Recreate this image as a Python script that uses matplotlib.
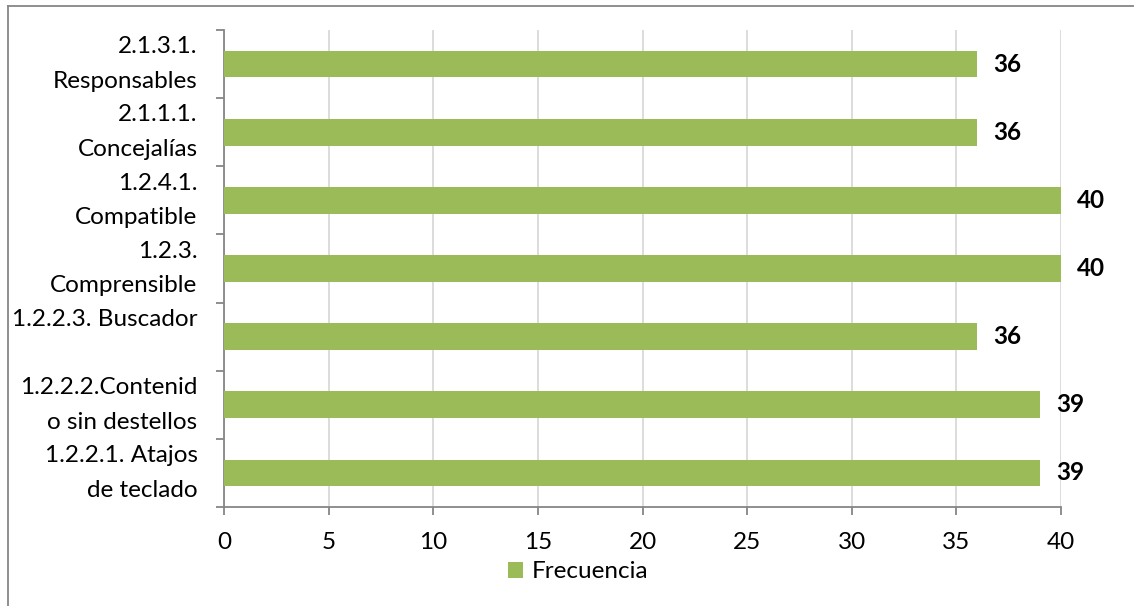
import matplotlib
matplotlib.use("Agg")
import matplotlib.pyplot as plt
from matplotlib.lines import Line2D
from matplotlib.patches import Patch

categories = [
    "1.2.2.1. Atajos\nde teclado",
    "1.2.2.2.Contenid\no sin destellos",
    "1.2.2.3. Buscador\n ",
    "1.2.3.\nComprensible",
    "1.2.4.1.\nCompatible",
    "2.1.1.1.\nConcejalías",
    "2.1.3.1.\nResponsables",
]
frecuencia = [39, 39, 36, 40, 40, 36, 36]
x_ticks = [0, 5, 10, 15, 20, 25, 30, 35, 40]
series_name = "Frecuencia"

GREEN = "#9BBB59"
AXIS = "#868686"
GRID = "#D9D9D9"
FS = 17.5

plt.rcParams["font.family"] = ["Lato", "DejaVu Sans"]

fig = plt.figure(figsize=(11.34, 6.06), dpi=100)
ax = fig.add_axes([224 / 1134, 1 - 507 / 606, (1061 - 224) / 1134, (507 - 30) / 606])

pos = list(range(len(categories)))
ax.barh(pos, frecuencia, height=0.39, color=GREEN, zorder=3)

for y, v in zip(pos, frecuencia):
    ax.annotate(str(v), (v, y), xytext=(11.5, 0), textcoords="offset points",
                ha="left", va="center", fontsize=FS, fontweight="bold",
                color="black")

ax.set_xlim(0, 40)
ax.set_ylim(-0.5, len(categories) - 0.5)
ax.set_xticks(x_ticks)
ax.set_xticklabels([str(t) for t in x_ticks], fontsize=FS)
ax.set_yticks(pos)
ax.set_yticklabels(categories, fontsize=FS, linespacing=1.8, va="center")
ax.set_yticks([p - 0.5 for p in pos] + [len(categories) - 0.5], minor=True)

ax.tick_params(axis="y", which="major", length=0, pad=19)
ax.tick_params(axis="y", which="minor", length=6, width=1.3, color=AXIS, direction="out")
ax.tick_params(axis="x", length=6, width=1.3, color=AXIS, direction="out", pad=12)

ax.grid(axis="x", color=GRID, linewidth=1.3, zorder=0)
ax.set_axisbelow(True)
for side in ("top", "right"):
    ax.spines[side].set_visible(False)
for side in ("left", "bottom"):
    ax.spines[side].set_color(AXIS)
    ax.spines[side].set_linewidth(1.3)

handle = Patch(facecolor=GREEN, edgecolor="none")
fig.legend([handle], [series_name], loc="center", bbox_to_anchor=(578 / 1134, 1 - 572 / 606),
           frameon=False, fontsize=FS, handlelength=0.65, handleheight=0.65,
           handletextpad=0.35, borderpad=0)

# chart frame
fig.add_artist(Line2D([8 / 1134, 8 / 1134], [0, 1 - 6 / 606], transform=fig.transFigure,
                      color=AXIS, linewidth=1.3))
fig.add_artist(Line2D([8 / 1134, 1], [1 - 6 / 606, 1 - 6 / 606], transform=fig.transFigure,
                      color=AXIS, linewidth=1.3))

fig.savefig("out.png", dpi=100)
